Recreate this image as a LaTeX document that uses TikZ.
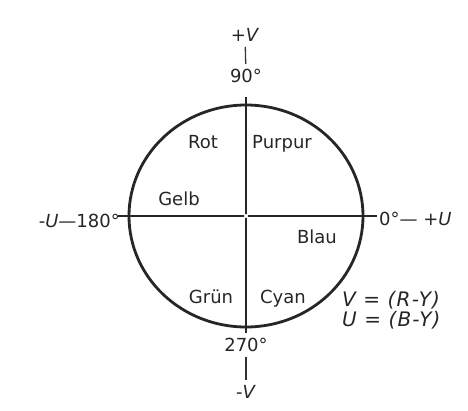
\documentclass[tikz,border=0pt]{standalone}
\usepackage{fontspec}
\setmainfont{DejaVu Sans}
\begin{document}
\begin{tikzpicture}[x=1pt, y=-1pt,
	every node/.style={font=\fontsize{18}{20}\selectfont, text=black!85, inner sep=1pt},
	axis/.style={line width=1.3pt, black!85},
	tick/.style={line width=1.3pt, black!80, shorten <=4pt, shorten >=4pt}]
\useasboundingbox (0,0) rectangle (468,410);

\draw[line width=2.8pt, black!85] (246,216) ellipse (117pt and 111pt);

\coordinate (vtop) at (246,97);
\coordinate (vbot) at (246,333);
\coordinate (uleft) at (118,216);
\coordinate (uright) at (377,216);
\draw[axis] (vtop) -- (vbot);
\draw[axis] (uleft) -- (uright);
\fill[white] (246,216) circle (2pt);

\node (pV) at (245,35) {+\textit{V}};
\node (n90) at (246,76) {90°};
\node (n270) at (246,345) {270°};
\node (mV) at (246,392) {-\textit{V}};
\draw[tick] (pV) -- (n90);
\draw[tick] (n270) -- (mV);

\node (mU) [anchor=base east] at (121,227) {-\textit{U}—180°};
\node (pU) [anchor=base west] at (378,225) {0°— +\textit{U}};

\foreach \name/\x/\y/\text in {
	rot/203/148/Rot,
	purpur/282/148/Purpur,
	gelb/179/205/Gelb,
	blau/317/243/Blau,
	gruen/211/303/Grün,
	cyan/283/303/Cyan}
\node (\name) [anchor=base] at (\x,\y) {\text};

\node (vdef) [anchor=base west, font=\fontsize{20}{22}\selectfont\addfontfeature{LetterSpace=6}] at (341,306) {\textit{V = (R-Y)}};
\node (udef) [anchor=base west, font=\fontsize{20}{22}\selectfont\addfontfeature{LetterSpace=6}] at (341,326) {\textit{U = (B-Y)}};

\end{tikzpicture}
\end{document}
